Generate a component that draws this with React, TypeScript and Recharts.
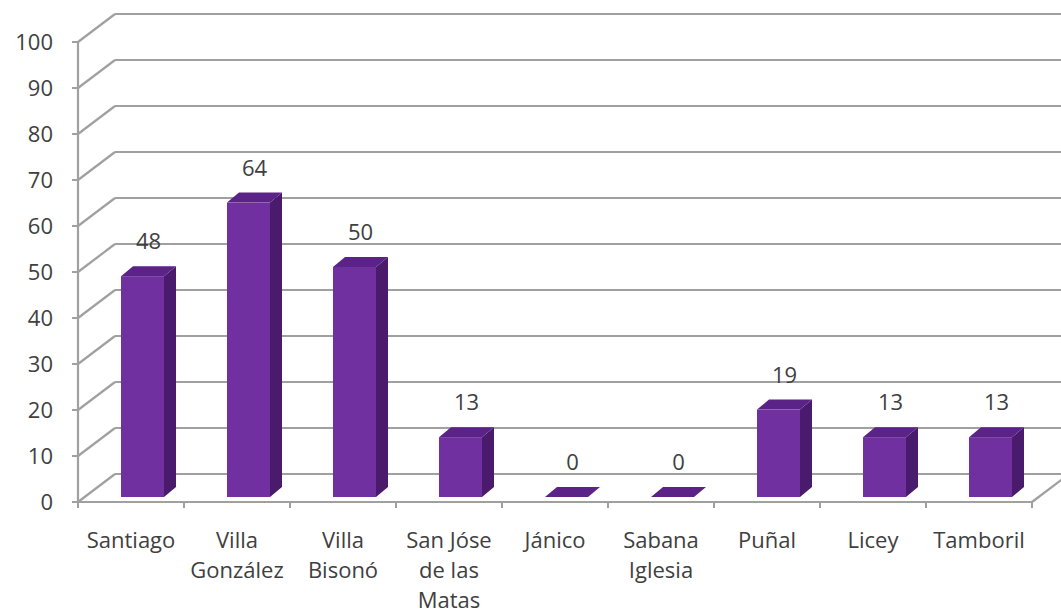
import React from 'react';
import {
  BarChart,
  Bar,
  XAxis,
  YAxis,
  CartesianGrid,
  LabelList,
} from 'recharts';

const categories = [
  'Santiago',
  'Villa\nGonzález',
  'Villa\nBisonó',
  'San Jóse\nde las\nMatas',
  'Jánico',
  'Sabana\nIglesia',
  'Puñal',
  'Licey',
  'Tamboril',
];
const values = [48, 64, 50, 13, 0, 0, 19, 13, 13];
const yTicks = [0, 10, 20, 30, 40, 50, 60, 70, 80, 90, 100];

const data = categories.map((name, i) => ({ name, value: values[i] }));

const W = 1061;
const H = 614;
const LEFT = 78;
const RIGHT = 1032;
const BAND = (RIGHT - LEFT) / categories.length;
// 3d wall depth
const WALL_DX = 37;
const WALL_DY = -28;
// bar offset into the floor and bar depth
const BAR_OX = 11;
const BAR_OY = -5;
const BAR_DX = 12;
const BAR_DY = -10;

const GRID = '#a0a0a0';
const TEXT = '#404040';
const FONT = '"Open Sans", sans-serif';
const FS = 22;

function GridLine(props: any) {
  const { x1, y1, x2 } = props;
  const isFloor = Math.abs(y1 - (H - 112)) < 1;
  return (
    <g>
      <line x1={x1} y1={y1} x2={x1 + WALL_DX} y2={y1 + WALL_DY} stroke={GRID} strokeWidth={2.2} />
      <line x1={x1 + WALL_DX} y1={y1 + WALL_DY} x2={W + 10} y2={y1 + WALL_DY} stroke={GRID} strokeWidth={2.2} />
      {isFloor && (
        <line x1={x2} y1={y1} x2={x2 + WALL_DX} y2={y1 + WALL_DY} stroke={GRID} strokeWidth={2.2} />
      )}
    </g>
  );
}

function Bar3D(props: any) {
  const { x, y, width, height } = props;
  const fx = x + BAR_OX;
  const fy = y + BAR_OY;
  const h = Math.max(height, 0);
  const top = `${fx},${fy} ${fx + BAR_DX},${fy + BAR_DY} ${fx + width + BAR_DX},${fy + BAR_DY} ${fx + width},${fy}`;
  const side = `${fx + width},${fy} ${fx + width + BAR_DX},${fy + BAR_DY} ${fx + width + BAR_DX},${fy + h + BAR_DY} ${fx + width},${fy + h}`;
  return (
    <g>
      {h > 0 && <rect x={fx} y={fy} width={width} height={h} fill="#7030a0" />}
      {h > 0 && <polygon points={side} fill="#4a1b6c" />}
      <polygon points={top} fill="#5b2287" />
    </g>
  );
}

function ValueLabel(props: any) {
  const { x, y, width, value } = props;
  return (
    <text
      x={x + BAR_OX + width / 2 + 6}
      y={y + BAR_OY - 36}
      textAnchor="middle"
      dominantBaseline="central"
      fill={TEXT}
      fontSize={FS}
      fontFamily={FONT}
    >
      {value}
    </text>
  );
}

function CategoryTick(props: any) {
  const { x, y, payload, index } = props;
  const lines = String(payload.value).split('\n');
  return (
    <g>
      <line x1={x - BAND / 2} y1={y - 8} x2={x - BAND / 2} y2={y - 2} stroke={GRID} strokeWidth={2} />
      {index === categories.length - 1 && (
        <line x1={x + BAND / 2} y1={y - 8} x2={x + BAND / 2} y2={y - 2} stroke={GRID} strokeWidth={2} />
      )}
      <text textAnchor="middle" fill={TEXT} fontSize={FS} fontFamily={FONT}>
        {lines.map((l, i) => (
          <tspan key={i} x={x} y={y + 29 + i * 30} dominantBaseline="central">
            {l}
          </tspan>
        ))}
      </text>
    </g>
  );
}

export default function App() {
  return (
    <div style={{ position: 'absolute', left: 0, top: 0, width: W, height: H, background: '#fff' }}>
      <BarChart
        width={W}
        height={H}
        data={data}
        margin={{ top: 42, right: W - RIGHT, left: 0, bottom: 12 }}
        barSize={43}
      >
        <CartesianGrid vertical={false} horizontal={(p: any) => <GridLine key={p.key} {...p} />} />
        <XAxis
          dataKey="name"
          height={100}
          interval={0}
          tickLine={false}
          axisLine={{ stroke: GRID, strokeWidth: 2.2 }}
          tick={<CategoryTick />}
        />
        <YAxis
          width={LEFT}
          domain={[0, 100]}
          ticks={yTicks}
          interval={0}
          axisLine={{ stroke: GRID, strokeWidth: 2.2 }}
          tickLine={{ stroke: GRID, strokeWidth: 2 }}
          tickSize={6}
          tickMargin={19}
          tick={{ fill: TEXT, fontSize: FS, fontFamily: FONT }}
        />
        <Bar dataKey="value" shape={<Bar3D />} isAnimationActive={false}>
          <LabelList dataKey="value" content={<ValueLabel />} />
        </Bar>
      </BarChart>
    </div>
  );
}
